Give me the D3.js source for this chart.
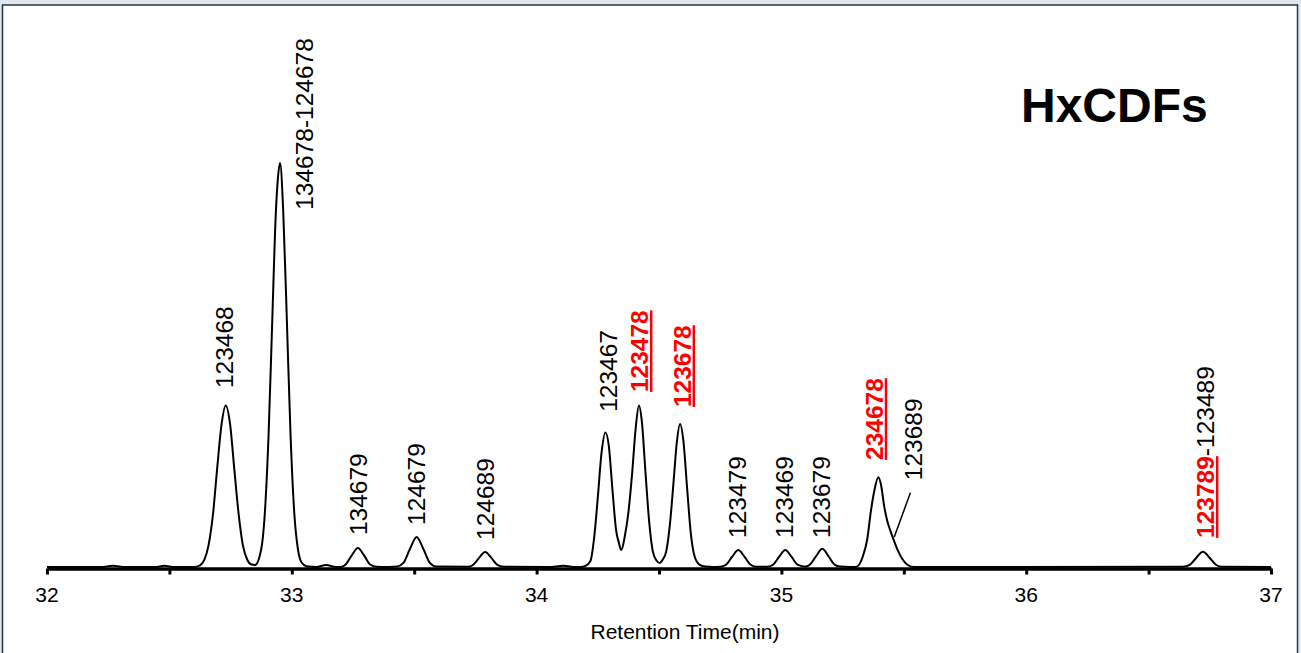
<!DOCTYPE html>
<html lang="en">
<head>
<meta charset="utf-8">
<title>HxCDFs</title>
<script src="https://cdn.jsdelivr.net/npm/d3@7"></script>
<style>
  body { margin: 0; background: #fff; font-family: Arial, "Liberation Sans", sans-serif; }
  .tick-label { font-size: 21px; }
  .peak-label { font-size: 24.5px; }
  .red { fill: #ff0000; font-weight: bold; text-decoration: underline; }
</style>
</head>
<body>
<script>
// retention time (min) of each trace point
var traceTime = [
  32.00, 32.22, 32.27, 32.32, 32.44, 32.48, 32.52, 32.60,
  32.625, 32.643, 32.66, 32.678, 32.695, 32.713, 32.73, 32.748, 32.765, 32.783, 32.80, 32.818, 32.835,
  32.85, 32.875, 32.89, 32.905, 32.92, 32.935, 32.943, 32.952, 32.965, 32.98, 32.995, 33.01, 33.025, 33.04, 33.06,
  33.10, 33.14, 33.18,
  33.20, 33.22, 33.245, 33.27, 33.295, 33.32, 33.345, 33.40,
  33.43, 33.456, 33.483, 33.51, 33.537, 33.564, 33.59,
  33.72, 33.74, 33.765, 33.79, 33.815, 33.84, 33.865,
  34.05, 34.11, 34.16,
  34.18, 34.20, 34.22, 34.235, 34.25, 34.265, 34.281, 34.295, 34.31, 34.325, 34.336, 34.346,
  34.36, 34.375, 34.39, 34.405, 34.418, 34.43, 34.445, 34.46, 34.475, 34.49, 34.502, 34.515,
  34.53, 34.545, 34.56, 34.573, 34.586, 34.60, 34.615, 34.63, 34.645, 34.665, 34.69, 34.72,
  34.75, 34.774, 34.799, 34.824, 34.849, 34.874, 34.90,
  34.94, 34.966, 34.991, 35.016, 35.041, 35.066, 35.09,
  35.10, 35.117, 35.142, 35.167, 35.192, 35.217, 35.24, 35.28,
  35.305, 35.332, 35.351, 35.366, 35.380, 35.396, 35.408, 35.420, 35.432, 35.445, 35.46, 35.475, 35.494, 35.516, 35.543,
  36.64, 36.668, 36.695, 36.722, 36.749, 36.776, 36.80, 37.00
];

// relative intensity (%) at each time above
var traceValue = [
  0, 0, 0.3, 0, 0, 0.3, 0, 0,
  0.4, 1.8, 5.4, 13, 24.3, 35.3, 40, 35.3, 24.3, 13, 5.4, 1.8, 0.6,
  0.5, 4.4, 13.5, 32.5, 60.7, 88, 96, 100, 88, 60.7, 32.5, 13.5, 4.4, 1.1, 0.2,
  0, 0.5, 0,
  0, 0.63, 2.9, 4.7, 2.9, 0.63, 0.05, 0,
  0.1, 1.0, 4.5, 7.4, 4.5, 1.0, 0.1,
  0.05, 0.5, 2.25, 3.7, 2.25, 0.5, 0.05,
  0, 0.3, 0,
  0, 0.3, 1.5, 7.2, 17.2, 28.1, 33.3, 30, 19, 9, 6, 4.2,
  7.5, 13.5, 23, 34.5, 40, 36, 23.2, 11.1, 3.8, 1.6, 1.0, 1.8,
  4, 10.8, 21.5, 31, 35.4, 31, 19.4, 8.3, 2.7, 0.6, 0.1, 0,
  0.05, 0.56, 2.55, 4.2, 2.55, 0.56, 0.05,
  0.05, 0.56, 2.55, 4.2, 2.55, 0.56, 0.15,
  0.1, 0.6, 2.7, 4.5, 2.7, 0.6, 0.1, 0,
  0, 2.5, 7, 14, 19, 22.2, 20, 15, 11.5, 9, 6.5, 4.2, 2, 0.5, 0,
  0.05, 0.5, 2.3, 3.8, 2.3, 0.5, 0.05, 0
];

// peak labels: text pieces (1 = underlined bold red congener), anchor time and intensity
var labelParts = [
  [["123468", 0]],
  [["134678-124678", 0]],
  [["134679", 0]],
  [["124679", 0]],
  [["124689", 0]],
  [["123467", 0]],
  [["123478", 1]],
  [["123678", 1]],
  [["123479", 0]],
  [["123469", 0]],
  [["123679", 0]],
  [["234678", 1]],
  [["123689", 0]],
  [["123789", 1], ["-123489", 0]]
];
var labelTime  = [32.759, 33.086, 33.306, 33.543, 33.824, 34.327, 34.455, 34.629, 34.857, 35.049, 35.200, 35.414, 35.576, 36.767];
var labelValue = [44.3, 88.4, 7.9, 10.4, 6.7, 38.4, 43.3, 39.6, 7.2, 7.2, 7.2, 26.5, 21.5, 7.2];

// leader line from the 123689 label to its shoulder
var leaderTime  = [35.527, 35.461];
var leaderValue = [18.4, 7.4];

var xTicks = [32, 32.5, 33, 33.5, 34, 34.5, 35, 35.5, 36, 36.5, 37];
var xLabels = [32, 33, 34, 35, 36, 37];

var W = 1301, H = 653;

var svg = d3.select("body").append("svg")
    .attr("width", W)
    .attr("height", H);

// window frame
svg.append("rect").attr("width", W).attr("height", H).attr("fill", "#dfe8ef");
svg.append("rect")
    .attr("x", 2.5).attr("y", 5)
    .attr("width", 1295).attr("height", H + 10)
    .attr("fill", "#fff")
    .attr("stroke", "#2e3338")
    .attr("stroke-width", 1.5);

var x = d3.scaleLinear().domain([32, 37]).range([47, 1271]);
var y = d3.scaleLinear().domain([0, 100]).range([567, 163]);

// x axis
var axis = svg.append("g")
    .attr("transform", "translate(0,568.5)")
    .call(d3.axisBottom(x).tickValues(xTicks).tickSize(6).tickSizeOuter(0).tickFormat(""));
axis.select(".domain").attr("stroke", "#000").attr("stroke-width", 3.5);
axis.selectAll(".tick line").attr("stroke", "#000").attr("stroke-width", 3);

svg.append("g").selectAll("text")
    .data(xLabels)
    .enter().append("text")
    .attr("class", "tick-label")
    .attr("x", function(d) { return x(d); })
    .attr("y", 602)
    .attr("text-anchor", "middle")
    .text(function(d) { return d; });

svg.append("text")
    .attr("class", "tick-label")
    .attr("x", 685)
    .attr("y", 639)
    .attr("text-anchor", "middle")
    .text("Retention Time(min)");

// chromatogram trace
var trace = traceTime.map(function(t, i) { return [t, traceValue[i]]; });
var line = d3.line()
    .x(function(d) { return x(d[0]); })
    .y(function(d) { return y(d[1]); })
    .curve(d3.curveMonotoneX);

svg.append("path")
    .datum(trace)
    .attr("fill", "none")
    .attr("stroke", "#000")
    .attr("stroke-width", 2)
    .attr("stroke-linejoin", "round")
    .attr("d", line);

// peak labels
var labels = svg.append("g").selectAll("text")
    .data(labelParts)
    .enter().append("text")
    .attr("class", "peak-label")
    .attr("transform", function(d, i) {
      return "translate(" + x(labelTime[i]) + "," + y(labelValue[i]) + ") rotate(-90)";
    });

labels.selectAll("tspan")
    .data(function(d) { return d; })
    .enter().append("tspan")
    .attr("class", function(d) { return d[1] ? "red" : null; })
    .text(function(d) { return d[0]; });

svg.append("line")
    .attr("x1", x(leaderTime[0])).attr("y1", y(leaderValue[0]))
    .attr("x2", x(leaderTime[1])).attr("y2", y(leaderValue[1]))
    .attr("stroke", "#000")
    .attr("stroke-width", 1.5);

// title
svg.append("text")
    .attr("x", 1021)
    .attr("y", 122)
    .attr("font-size", "48px")
    .attr("font-weight", "bold")
    .text("HxCDFs");
</script>
</body>
</html>
